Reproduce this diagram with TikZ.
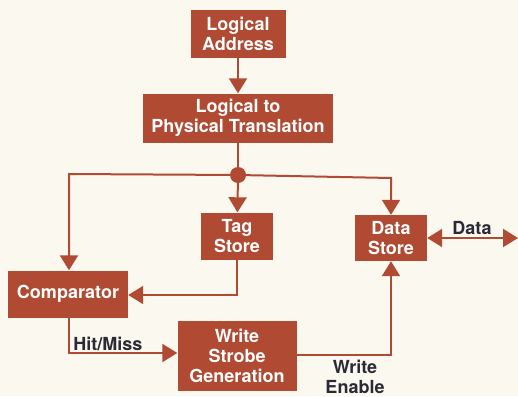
\documentclass[tikz,border=0pt]{standalone}
\usepackage{fontspec}
\setmainfont{TeX Gyre Heros}
\usetikzlibrary{arrows.meta}
\definecolor{rust}{RGB}{176, 74, 50}
\definecolor{paper}{RGB}{251, 248, 240}
\definecolor{ink}{RGB}{42, 42, 52}

\begin{document}
\begin{tikzpicture}[x=1pt, y=-1pt,
        block/.style={fill=rust, text=white, font=\bfseries\fontsize{18}{20}\selectfont,
            align=center, inner sep=0pt},
        wire/.style={draw=rust, line width=2pt},
        tip/.style={-{Triangle[length=15pt, width=18pt]}},
        lbl/.style={text=ink, font=\bfseries\fontsize{18}{20}\selectfont, align=center}
    ]
        % Page
        \fill[paper] (0,0) rectangle (518,396);
        \useasboundingbox (0,0) rectangle (518,396);
        % Blocks
        \node[block, minimum width=95pt, minimum height=48pt] (addr) at (238,34) {Logical\\Address};
        \node[block, minimum width=190pt, minimum height=49pt] (trans) at (238,118) {Logical to\\Physical Translation};
        \node[block, minimum width=72pt, minimum height=47pt] (tag) at (237,236) {Tag\\Store};
        \node[block, minimum width=72pt, minimum height=46pt] (data) at (391,238) {Data\\Store};
        \node[block, minimum width=120pt, minimum height=47pt] (comp) at (68,294) {Comparator};
        \node[block, minimum width=119pt, minimum height=70pt] (wsg) at (237,356) {Write\\Strobe\\Generation};
        \fill[rust] (238,175) circle (8pt);
        \coordinate (split) at (238,175);
        \coordinate (bus) at (518,238);
        % Draw connectors
        \draw[wire, tip] (addr) -- (trans);
        \draw[wire] (trans) -- (split);
        \draw[wire, tip] (split) -- (tag);
        \draw[wire, tip] (split) -- (69,174) -- (comp.north -| 69,0);
        \draw[wire, tip] (split) -- (391,178) -- (data);
        \draw[wire, tip] (tag.south) |- (comp.east |- 0,295);
        \draw[wire, tip] (comp.south -| 69,0) |- (wsg.west |- 0,353);
        \draw[wire, tip] (wsg.east |- 0,355) -| (data.south);
        \draw[wire, {Triangle[length=15pt, width=18pt]}-{Triangle[length=15pt, width=18pt]}] (data) -- (bus);
        % Add labels
        \node[lbl] (hit) at (108,344) {Hit/Miss};
        \node[lbl] (wen) at (355,377) {Write\\Enable};
        \node[lbl] (dat) at (472,228) {Data};
    \end{tikzpicture}
\end{document}
